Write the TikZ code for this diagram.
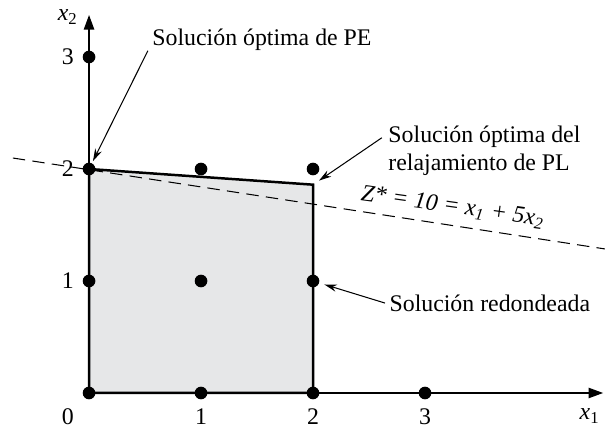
\documentclass[tikz,border=0pt]{standalone}
\usepackage{fontspec}
\setmainfont{Liberation Serif}
\usetikzlibrary{arrows.meta}
\definecolor{regiongray}{RGB}{230,231,232}

\begin{document}
\begin{tikzpicture}[x=1.9cm,y=1.9cm,
    every node/.style={font=\fontsize{11.5}{13.5}\selectfont},
    dot/.style={circle,fill=black,minimum size=6.1pt,inner sep=0pt},
    axis/.style={line width=0.6pt,-{Triangle[length=7pt,width=5pt]}},
    pointer/.style={line width=0.5pt,-{Stealth[length=6pt,width=3.5pt]}},
    note/.style={inner sep=0pt}]
\useasboundingbox (-0.795,-0.304) rectangle (4.607,3.509);
\fill[regiongray] (0,0) -- (2,0) -- (2,1.86) -- (0,2) -- cycle;
\draw[axis] (0,0) -- (0,3.375);
\draw[axis] (0,0) -- (4.59,0);
\draw[dash pattern=on 6pt off 3.5pt,line width=0.5pt] (-0.68,2.098) -- (4.607,1.286);
\draw[line width=1.2pt] (0,0) -- (2,0) -- (2,1.86) -- (0,2) -- cycle;
\coordinate (lp) at (2,1.86);
\foreach \i/\j in {0/0,1/0,2/0,3/0,0/1,1/1,2/1,0/2,1/2,2/2,0/3}
  \node[dot] (p\i\j) at (\i,\j) {};
\foreach \k in {1,2,3} {
  \node (t\k) at (\k,-0.21) {\k};
  \node (s\k) at (-0.19,\k) {\k};
}
\node (t0) at (-0.19,-0.21) {0};
\node (x1) at (4.47,-0.205) {\textit{x}\textsubscript{1}};
\node (x2) at (-0.19,3.357) {\textit{x}\textsubscript{2}};
\node[note,anchor=base west] (pe) at (0.5625,3.105) {Solución óptima de PE};
\node[note,anchor=north west,align=left] (pl) at (2.67,2.39)
  {Solución óptima del\\relajamiento de PL};
\node[note,anchor=base west] (rd) at (2.68,0.73) {Solución redondeada};
\node[note,anchor=base west,rotate=-8] (zl) at (2.42,1.723)
  {\itshape Z* = 10 = x\textsubscript{1} + 5x\textsubscript{2}};
\draw[pointer,shorten >=1pt] ([xshift=-2pt]pe.south west) -- (p02);
\draw[pointer,shorten >=3.5pt] ([shift={(-3pt,-6pt)}]pl.north west) -- (lp);
\draw[pointer,shorten >=2.5pt] ([xshift=-2pt]rd.west) -- (p21);
\end{tikzpicture}
\end{document}
